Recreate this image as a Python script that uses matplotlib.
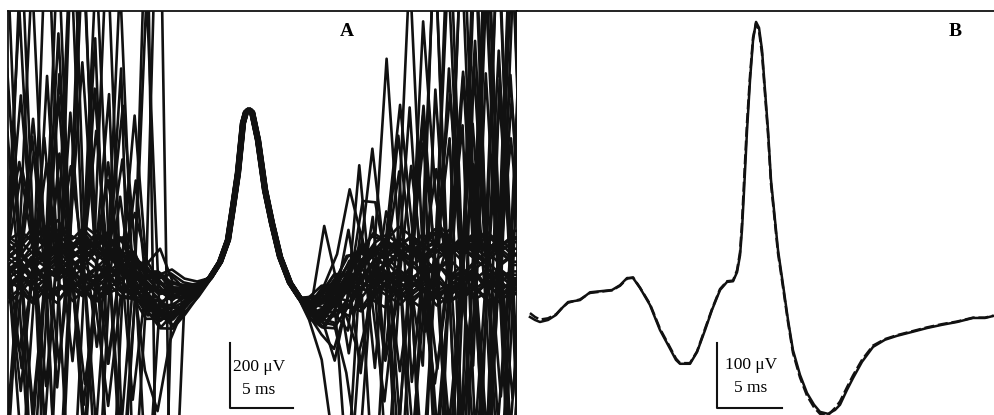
import matplotlib
matplotlib.use("Agg")
import matplotlib.pyplot as plt
import numpy as np

plt.rcParams['font.family'] = ['Liberation Serif', 'DejaVu Serif']

# ---------------- Panel A data (ms, µV) ----------------
tA_left = [-1, 0, 1, 2, 3, 4, 5, 6, 7, 8, 9, 10, 11, 12, 13, 14, 15]
baseA_left = [0, 0, 2, 5, 7, 8, 9, 9, 8, 6, -5, -30, -68, -95, -108, -95, -73]
tA_center = [16.03, 16.83, 17.46, 17.86, 18.25, 18.65, 18.89, 19.13, 19.37, 19.84,
             20.40, 20.95, 21.59, 22.38, 23.17]
vA_center = [-40, 9, 77, 179, 283, 437, 471, 480, 471, 385, 231, 129, 25, -55, -102]
tA_right = [24, 25, 26, 27, 28, 29, 30, 31, 32, 33, 34, 35, 36, 37, 38, 39, 40, 41]
baseA_right = [-132, -128, -98, -62, -28, -12, -5, -2, 0, 0, 0, 0, 0, 0, 0, 0, 0, 0]

devA_left = [
    [60, 60, 80, 40, 1100, 70, 50, 90, 60, 30, 70, 40, 20, 50, 30, 20, 10],
    [-50, -50, -80, -700, -60, -90, -40, -70, -30, -60, 250, -20, -50, -30, -40, -20, -10],
    [20, 20, 1000, 50, 10, 40, 80, 60, 20, 50, 0, 30, 60, 40, 20, 30, 10],
    [-80, -80, -40, -90, -60, -800, -30, -70, -50, 300, -80, -40, -60, -20, -30, 0, 0],
    [90, 90, 60, 100, 70, 40, 1200, 80, 50, 90, 60, 30, 50, 20, 40, 20, 10],
    [-20, -700, -60, -30, -80, -50, -10, -60, -90, -40, -70, -30, -50, -20, -40, -30, -10],
    [40, 40, 10, 60, 30, 70, 20, 50, 900, 30, 60, 10, 40, 20, -10, 10, 0],
    [-60, -60, -20, -50, -90, 350, -70, -40, -80, -30, -700, -60, -40, -70, -30, -20, 0],
    [30, 1000, 60, 20, 50, 80, 40, 70, 30, 60, 20, 50, 10, 30, 40, 10, 0],
    [-30, -30, -70, -40, -900, -20, -60, -30, -70, -40, -20, -50, -30, -60, -50, -30, -10],
    [70, 70, 40, 80, 50, 90, 60, 1100, 40, 70, 30, 60, 40, 70, 30, 20, 10],
    [-90, -90, -60, -100, -50, -80, -800, -60, -90, -40, -70, -50, -30, -60, -40, -20, 0],
    [10, 10, 40, -10, 30, 1000, 20, 50, 10, -300, 30, 0, 40, 20, 10, 20, 10],
    [-40, -40, -10, -60, -30, -50, -20, -70, -750, -40, -10, -50, -20, -40, -60, -30, -10],
    [50, 50, 90, 900, 70, 40, 80, 50, 100, 60, 30, 70, 50, 60, 30, 20, 0],
    [-10, -10, -40, 10, 300, -30, 0, -50, -20, 20, -30, 10, -650, -20, -50, -20, 0],
    [80, 80, 50, 100, 70, 120, 60, 950, 90, 50, 80, 40, 60, 30, 50, 30, 10],
    [-70, -70, -600, -50, -90, -60, -110, -70, -40, -80, -50, 300, -60, -40, -20, -30, -10],
    [20, 20, 50, 0, 30, 60, 10, 40, 70, 1000, 20, 50, 30, 60, 80, 30, 10],
    [-20, -20, 10, -40, -10, 20, -30, -60, -20, 10, -40, -10, 1300, -1300, 60, -20, 0],
    [40, 40, 70, 30, 60, 20, 50, 80, 40, 10, 50, 20, 60, 1500, -900, -40, 0],
    [-50, -50, -20, -70, -40, -10, -60, -600, -30, -70, -40, -80, -50, -70, -90, -40, -20],
    [100, 100, 800, 70, 110, 80, 50, 90, 60, 100, 70, 40, 20, 30, 10, 20, 0],
    [-100, -100, -70, -850, -110, -80, -60, -90, -120, -70, -50, -80, -60, -30, -50, -20, 0],
    [0, 0, 30, -20, 10, 40, 70, 30, 60, 20, 900, 10, 40, 20, 50, 30, 10],
    [-60, -60, -90, -40, -70, -900, -50, -80, -30, -60, -20, -50, -70, -40, -20, -10, 0],
    [60, 60, 30, 80, 40, 70, 1000, 50, 90, 40, 70, 30, 50, 80, 60, 40, 20],
    [-30, -30, -60, -20, -50, -90, -40, -70, -20, -800, -40, -60, -30, -50, -70, -40, -20],
    [10, 10, -20, 30, 0, -30, 20, -10, 40, 10, -30, 20, -250, -350, -120, -40, -10],
    [-10, -10, 20, 50, 10, 40, 0, 30, 60, 20, 50, 200, 80, 150, 60, 30, 10],
    [50, 600, 20, 70, -500, 60, 30, 90, 40, 250, 20, 60, 30, 50, 80, 40, 10],
    [-40, -40, -400, -10, -60, 500, -30, -450, -70, -20, -50, -80, -40, 60, 90, 50, 20],
    [30, 30, 60, 450, 20, 50, 300, 10, -500, 40, 0, 30, -40, -60, -50, -30, -10],
    [-70, -400, -40, -90, 600, -60, -20, -350, -50, -10, -600, -40, -70, -40, -30, -20, 0],
    [80, 80, 300, 50, 90, -400, 60, 600, 30, 70, 40, -400, -20, -50, -70, -40, -20],
    [-20, -20, 10, -500, -10, 700, -40, 20, 400, -30, 10, -60, 900, -40, 30, 20, 0],
    [30, 30, 250, 40, 70, 20, -350, 50, 10, 60, 450, 20, -80, -120, -60, -30, 0],
    [-30, -30, -250, -60, 400, -40, -10, -70, 550, -20, -60, -30, 100, 60, 20, 10, 0],
    [70, 70, 40, 350, 80, -300, 50, 90, -250, 60, 30, 500, 40, 20, 10, 0, 0],
    [-60, 450, -30, -80, -20, -60, 500, -40, -90, -400, -50, -30, -70, -50, -40, -20, -10],
    [20, 20, -300, 60, 30, 600, 10, -500, 40, 70, 350, -20, -60, -90, -80, -50, -20],
    [-10, -500, 30, 400, -20, 10, -40, 30, 700, -300, 20, -50, 30, 80, 60, 30, 10],
    [90, 90, 550, 70, -350, 100, 60, 40, 80, 550, -450, 50, 30, 20, 40, 20, 10],
    [-80, -80, -40, -450, -60, 250, -100, -50, -80, -30, 600, -700, -40, -20, -60, -30, -10],
]

devA_right = [
    [10, 240, 30, 50, 20, 60, 80, 40, 70, 30, 60, 90, 1100, 50, 80, 40, 60, 60],
    [-30, -150, -450, -700, -200, -60, -90, -40, -70, -100, -50, -80, -60, -30, -70, -800, -40, -40],
    [20, 40, 60, 30, 70, 40, 640, 60, 90, 50, 70, 30, 60, 80, 1000, 40, 70, 70],
    [-10, -40, -20, 10, -30, 0, -50, -20, -60, 740, 200, -30, -60, -20, -700, -50, -30, -30],
    [20, 50, 70, 90, 300, 280, 60, 30, 70, 40, 80, -900, 50, 90, 60, 30, 1000, 60],
    [-20, -50, -100, -300, -600, -80, -40, -90, -60, -100, 1000, -70, -40, -80, -50, -90, -60, -60],
    [30, 10, 40, 70, 50, 90, 60, 100, 70, 40, 80, 1100, 60, 30, 70, 40, -700, 50],
    [-20, -60, -30, -80, -50, -700, -40, -70, -100, -60, -90, -50, -80, 1000, -60, -40, -70, -70],
    [0, 20, 50, 10, 40, 70, 30, 60, 20, 50, 10, 40, -800, 60, 30, 70, 1100, 40],
    [10, -10, -40, 20, -20, -50, 10, -30, -60, -20, -800, 0, -40, -10, 1000, -30, -60, -60],
    [30, 60, 30, 80, 50, 90, 70, 40, 900, 60, 100, 70, 40, 80, 50, 1000, 70, 70],
    [-30, -40, -70, -40, -90, -60, -30, -750, -80, -50, -100, -70, -40, -80, -60, -90, -50, 1000],
    [0, 30, 0, 40, 10, -20, 20, 50, 10, 30, -10, 20, 1000, 40, -800, 10, 40, 40],
    [-10, -30, -60, -30, -70, -40, -650, -50, -90, -60, -30, -80, -50, -20, -70, -40, -60, -900],
    [20, 50, 80, 50, 100, 70, 40, 90, 60, -800, 80, 40, 70, 100, 60, 90, 50, 50],
    [-20, -20, 20, -10, -50, -20, 10, -40, -70, -30, 0, -50, -20, 1100, -60, -30, -600, -40],
    [10, 30, -30, -600, 0, 30, 60, 20, 50, 10, 40, 900, 20, 60, 30, 70, 40, 40],
    [-10, -50, -20, -60, -90, -50, -80, -110, -70, -40, -80, -50, -90, -60, -100, -800, -50, -50],
    [30, 40, 70, 40, 80, 50, 90, 60, 30, 70, 1000, 40, 80, 50, 20, 60, 30, 900],
    [-30, -20, 10, -30, 0, -40, -10, -60, -30, 0, -40, -20, -900, -50, -10, -60, -30, -30],
    [20, 10, 40, 0, 30, 60, 20, 400, 50, 10, 40, 70, 30, 60, -700, 40, 10, 10],
    [-10, 40, 10, 50, 20, -20, 30, 60, 20, 50, 80, 500, 40, 10, 50, 80, 1000, 40],
    [0, -40, -10, -50, -20, -60, -30, 0, -40, -600, -20, -60, -30, -70, -40, 1100, -50, -50],
    [10, 20, -20, 20, -10, 30, 0, 40, 10, -30, 20, 50, 10, -1000, 40, 0, 30, 30],
    [20, -20, 10, 60, 90, 60, 100, 70, 40, 90, 60, 110, 80, 50, 900, 70, 40, -900],
    [-20, 50, 20, -20, -60, -30, -80, -40, -70, -100, -60, -700, -50, -90, -60, -30, -70, -70],
    [0, -30, 0, 30, 0, 40, 10, -30, 20, 400, 30, 0, -30, 10, 40, 0, -800, 20],
    [-10, 40, 10, -30, 10, -20, -60, -20, -500, -50, -80, -40, 600, -70, -30, -60, -20, -20],
    [10, -20, 40, 0, 40, 70, 40, 80, 50, 20, 60, 30, 70, 40, 1000, 50, -500, 30],
    [0, 30, -10, 20, -20, -50, -20, -60, -30, 0, -500, -40, -10, 700, -50, -20, -60, -20],
    [-20, -40, -200, -50, 30, 60, 20, 50, 80, 40, 70, 30, 60, 90, -600, 50, 80, 80],
    [20, 10, 30, -30, -60, -30, -70, -100, -60, -90, -50, -500, -80, -40, -70, 500, -60, -60],
    [0, -30, 20, 40, -300, 20, 50, 20, 60, 30, 300, 50, 90, 60, 30, 70, 1000, 40],
    [10, 30, -10, 20, 40, -20, 10, -300, -10, -50, -20, -60, -30, -600, -40, -70, -30, -30],
    [-20, -20, 30, -40, 20, 50, -300, 60, 30, 80, 50, 20, 60, 30, 70, -500, 40, 600],
    [0, 20, -30, 30, -30, -60, -30, -70, 300, -50, -90, 600, -60, -30, -80, -50, -90, -60],
    [10, 50, 100, 250, 60, -350, 90, 450, 50, -250, 80, 40, 550, 70, 30, -450, 60, 60],
    [-20, -80, -150, -50, 350, -80, -400, -40, 500, -80, -350, -60, -20, 450, -70, -40, 600, -50],
    [0, 30, 70, -200, 40, 80, 50, 300, -350, 40, 70, 400, -500, 50, 80, 40, -400, 40],
    [-10, -30, 60, 100, -40, 200, -250, -60, -30, 500, -600, -80, -40, 350, -70, 700, -50, -50],
    [20, 60, 30, -100, -250, 40, 80, -450, 70, 30, -300, 80, 450, -500, 60, 90, -700, 30],
    [-30, -60, -90, 50, 60, 380, 30, -80, -40, -300, 550, -30, -60, -300, 600, -40, 400, -40],
    [10, 40, 20, 200, -80, -60, 200, 70, -650, 90, 40, -600, 80, 50, -500, 600, 30, 30],
    [-20, -10, -60, -150, 120, -50, -30, -550, 40, 480, -60, 60, -550, 600, -40, -30, 500, -40],
]

# per-sweep baseline offset (µV) and how strongly it shows along each side
levelA = [20, -35, 0, 10, -75, 30, 20, -15, -25, 15, 10, -25, -10, 0, -15, 5, 10, -10,
          -5, -40, 0, 25, -20, 0, -25, 15, -25, -20, -10, -10, 5, 10, -5, -25, 15, 5,
          45, -15, -10, -40, -20, -10, -30, 10]
level_w_left = [1, 1, 1, 1, 1, 1, 1, 1, 1, 1, 1, 1, 0.7, 0.5, 0.4, 0.3, 0.2]
level_w_right = [0.2, 0.4, 0.7, 1, 1, 1, 1, 1, 1, 1, 1, 1, 1, 1, 1, 1, 1, 1]

shiftA = [0.1, -0.1, 0.05, -0.05, 0.15, -0.15, 0, 0.08, -0.08, 0.12, -0.12, 0.03,
          -0.03, 0.1, -0.1, 0.06, -0.06, 0.14, -0.14, 0.02, -0.02, 0.09, -0.09, 0.11,
          -0.11, 0.04, -0.04, 0.13, -0.13, 0.07, -0.07, 0.01, -0.01, 0.1, -0.1, 0,
          0.12, -0.12, 0.05, -0.05, 0.08, -0.08, 0.02, -0.02]

# ---------------- Panel B data (ms, µV) ----------------
tB = [0.15, 0.54, 0.92, 1.54, 2.15, 2.62, 3.08, 4.0, 4.77, 6.46, 7.08, 7.62, 8.08, 8.62,
      9.38, 10.15, 10.77, 11.38, 11.69, 12.46, 13.0, 13.62, 14.15, 14.77, 15.31, 15.77,
      16.08, 16.31, 16.46, 16.62, 16.85, 17.08, 17.31, 17.54, 17.77, 18.0, 18.23, 18.46,
      18.69, 18.92, 19.23, 19.62, 20.0, 20.38, 20.92, 21.46, 22.0, 22.46, 23.08, 23.62,
      24.0, 24.54, 25.0, 25.69, 26.54, 27.46, 28.38, 29.54, 30.69, 31.85, 33.0, 34.23,
      35.15, 35.77]
vB_solid = [0, -4.6, -7.7, -4.6, 3.1, 13.8, 23, 26, 38, 41.5, 49, 60, 60, 44.6, 18.5,
            -20, -43, -66, -72, -72, -54, -20, 10.8, 41.5, 54, 55, 69, 95, 134, 195, 288,
            365, 426, 454, 445, 411, 349, 288, 211, 165, 103, 49, -4.6, -51, -89, -117,
            -135, -146, -149, -143, -135, -112, -94, -69, -46, -35, -29, -23, -17, -12,
            -7.7, -1.5, -1.5, 1.5]
vB_dash = [6, 0, -4, -2, 4, 14, 22, 27, 37, 41, 48, 59, 61, 45, 20, -18, -41, -64, -71,
           -71, -53, -18, 12, 43, 55, 56, 72, 100, 145, 210, 300, 372, 430, 452, 440,
           405, 343, 282, 205, 160, 98, 45, -8, -55, -93, -121, -139, -149, -151, -140,
           -130, -108, -90, -66, -44, -34, -28, -22, -16, -11, -7, -1, -1, 2]

panel_labels = ["A", "B"]
scale_labels_A = ["200 μV", "5 ms"]
scale_labels_B = ["100 μV", "5 ms"]

# ---------------- Figure ----------------
W, H = 995, 415
fig = plt.figure(figsize=(W / 100, H / 100), dpi=100)
top = 1 - 11 / H
axA = fig.add_axes([8 / W, 0, 509 / W, top])
axB = fig.add_axes([517 / W, 0, 478 / W, top])

col = '#111111'
lwA = 1.9
lwB = 1.8

for i in range(len(devA_left)):
    s = shiftA[i]
    t = np.concatenate([np.array(tA_left) + s, np.array(tA_center) + s, np.array(tA_right) + s])
    left = np.array(baseA_left) + np.array(devA_left[i]) + levelA[i] * np.array(level_w_left)
    right = np.array(baseA_right) + np.array(devA_right[i]) + levelA[i] * np.array(level_w_right)
    v = np.concatenate([left, np.array(vA_center), right])
    axA.plot(t, v, color=col, lw=lwA, solid_joinstyle='round')

axA.set_xlim(0, 40.4)
axA.set_ylim(-462, 782)

axB.plot(tB, vB_dash, color=col, lw=lwB, ls=(0, (4, 1.5)))
axB.plot(tB, vB_solid, color=col, lw=lwB)
axB.set_xlim(-0.846, 35.92)
axB.set_ylim(-150.8, 470.8)

for ax in (axA, axB):
    ax.set_xticks([])
    ax.set_yticks([])
    for sp in ax.spines.values():
        sp.set_linewidth(1.3)
        sp.set_color(col)
    ax.spines['bottom'].set_visible(False)
axB.spines['left'].set_visible(False)
axB.spines['right'].set_visible(False)

# scale bars
x0A, y0A = 17.62, -440
axA.plot([x0A, x0A, x0A + 5], [y0A + 200, y0A, y0A], color=col, lw=1.5, clip_on=False)
axA.text(x0A + 2.3, y0A + 125, scale_labels_A[0], ha='center', va='center', fontsize=12.5)
axA.text(x0A + 2.3, y0A + 54, scale_labels_A[1], ha='center', va='center', fontsize=12.5)

x0B, y0B = 14.54, -140
axB.plot([x0B, x0B, x0B + 5], [y0B + 100, y0B, y0B], color=col, lw=1.5, clip_on=False)
axB.text(x0B + 2.6, y0B + 66, scale_labels_B[0], ha='center', va='center', fontsize=12.5)
axB.text(x0B + 2.6, y0B + 30, scale_labels_B[1], ha='center', va='center', fontsize=12.5)

fig.text(347 / W, 1 - 31 / H, panel_labels[0], ha='center', va='center',
         fontsize=14, fontweight='bold')
fig.text(955 / W, 1 - 31 / H, panel_labels[1], ha='center', va='center',
         fontsize=14, fontweight='bold')

fig.savefig("out.png", dpi=100)
